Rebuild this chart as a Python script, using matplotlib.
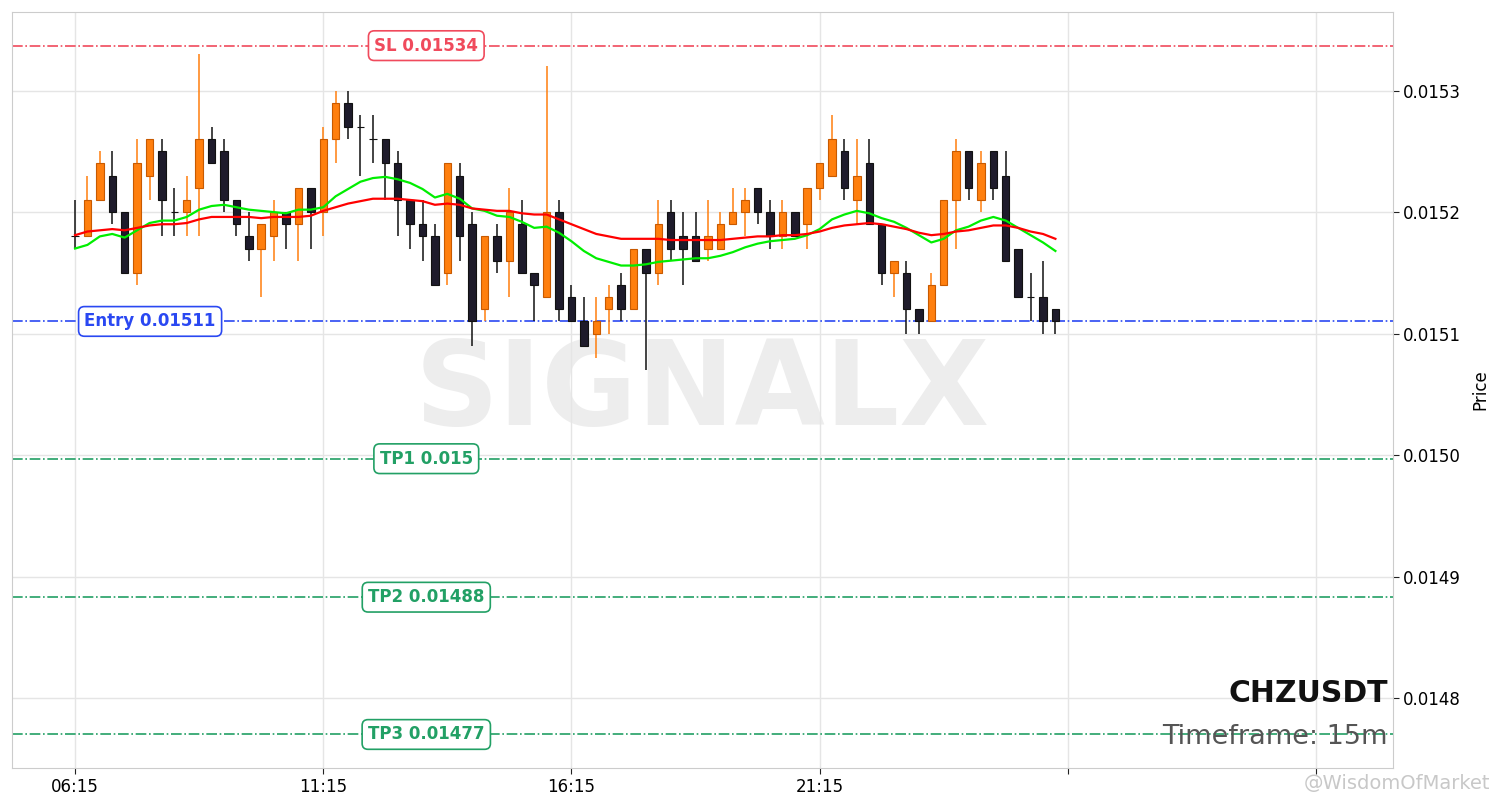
import numpy as np
import matplotlib.pyplot as plt
from matplotlib import transforms

symbol = "CHZUSDT"
timeframe = "15m"

# OHLC for the 80 candles, 15m each, starting 06:15
opens = [0.01518, 0.01518, 0.01521, 0.01523, 0.01520, 0.01515, 0.01523, 0.01525, 0.01520, 0.01520,
         0.01522, 0.01526, 0.01525, 0.01521, 0.01518, 0.01517, 0.01518, 0.01520, 0.01519, 0.01522,
         0.01520, 0.01526, 0.01529, 0.01527, 0.01526, 0.01526, 0.01524, 0.01521, 0.01519, 0.01518,
         0.01515, 0.01523, 0.01519, 0.01512, 0.01518, 0.01516, 0.01519, 0.01515, 0.01513, 0.01520,
         0.01513, 0.01511, 0.01510, 0.01512, 0.01514, 0.01512, 0.01517, 0.01515, 0.01520, 0.01518,
         0.01518, 0.01517, 0.01517, 0.01519, 0.01520, 0.01522, 0.01520, 0.01518, 0.01520, 0.01519,
         0.01522, 0.01523, 0.01525, 0.01521, 0.01524, 0.01519, 0.01515, 0.01515, 0.01512, 0.01511,
         0.01514, 0.01521, 0.01525, 0.01521, 0.01525, 0.01523, 0.01517, 0.01513, 0.01513, 0.01512]
highs = [0.01521, 0.01523, 0.01525, 0.01525, 0.01520, 0.01526, 0.01526, 0.01526, 0.01522, 0.01523,
         0.01533, 0.01527, 0.01526, 0.01521, 0.01520, 0.01519, 0.01521, 0.01520, 0.01522, 0.01522,
         0.01527, 0.01530, 0.01530, 0.01528, 0.01528, 0.01526, 0.01525, 0.01521, 0.01521, 0.01519,
         0.01524, 0.01524, 0.01520, 0.01518, 0.01519, 0.01522, 0.01521, 0.01515, 0.01532, 0.01521,
         0.01514, 0.01513, 0.01513, 0.01514, 0.01515, 0.01517, 0.01517, 0.01521, 0.01521, 0.01520,
         0.01520, 0.01521, 0.01520, 0.01522, 0.01522, 0.01522, 0.01521, 0.01521, 0.01520, 0.01522,
         0.01524, 0.01528, 0.01526, 0.01526, 0.01526, 0.01519, 0.01516, 0.01516, 0.01512, 0.01515,
         0.01521, 0.01526, 0.01525, 0.01525, 0.01525, 0.01525, 0.01517, 0.01515, 0.01516, 0.01512]
lows = [0.01517, 0.01518, 0.01521, 0.01519, 0.01515, 0.01514, 0.01521, 0.01518, 0.01518, 0.01518,
        0.01518, 0.01524, 0.01520, 0.01518, 0.01516, 0.01513, 0.01516, 0.01517, 0.01516, 0.01517,
        0.01518, 0.01524, 0.01526, 0.01523, 0.01524, 0.01521, 0.01518, 0.01517, 0.01516, 0.01514,
        0.01514, 0.01516, 0.01509, 0.01511, 0.01515, 0.01513, 0.01515, 0.01511, 0.01513, 0.01511,
        0.01511, 0.01509, 0.01508, 0.01510, 0.01511, 0.01512, 0.01507, 0.01514, 0.01516, 0.01514,
        0.01516, 0.01516, 0.01517, 0.01519, 0.01518, 0.01519, 0.01517, 0.01517, 0.01518, 0.01517,
        0.01521, 0.01523, 0.01521, 0.01519, 0.01519, 0.01514, 0.01513, 0.01510, 0.01510, 0.01511,
        0.01514, 0.01517, 0.01521, 0.01520, 0.01521, 0.01516, 0.01513, 0.01511, 0.01510, 0.01510]
closes = [0.01518, 0.01521, 0.01524, 0.01520, 0.01515, 0.01524, 0.01526, 0.01521, 0.01520, 0.01521,
          0.01526, 0.01524, 0.01521, 0.01519, 0.01517, 0.01519, 0.01520, 0.01519, 0.01522, 0.01520,
          0.01526, 0.01529, 0.01527, 0.01527, 0.01526, 0.01524, 0.01521, 0.01519, 0.01518, 0.01514,
          0.01524, 0.01518, 0.01511, 0.01518, 0.01516, 0.01520, 0.01515, 0.01514, 0.01520, 0.01512,
          0.01511, 0.01509, 0.01511, 0.01513, 0.01512, 0.01517, 0.01515, 0.01519, 0.01517, 0.01517,
          0.01516, 0.01518, 0.01519, 0.01520, 0.01521, 0.01520, 0.01518, 0.01520, 0.01518, 0.01522,
          0.01524, 0.01526, 0.01522, 0.01523, 0.01519, 0.01515, 0.01516, 0.01512, 0.01511, 0.01514,
          0.01521, 0.01525, 0.01522, 0.01524, 0.01522, 0.01516, 0.01513, 0.01513, 0.01511, 0.01511]

# moving averages
ma_fast = [0.015170, 0.015173, 0.015180, 0.015182, 0.015179, 0.015185, 0.015191, 0.015193, 0.015193, 0.015196,
           0.015202, 0.015205, 0.015206, 0.015204, 0.015202, 0.015201, 0.015200, 0.015199, 0.015202, 0.015202,
           0.015204, 0.015213, 0.015219, 0.015225, 0.015228, 0.015229, 0.015227, 0.015224, 0.015219, 0.015212,
           0.015215, 0.015211, 0.015203, 0.015201, 0.015197, 0.015196, 0.015192, 0.015187, 0.015188, 0.015183,
           0.015176, 0.015168, 0.015162, 0.015159, 0.015156, 0.015156, 0.015157, 0.015159, 0.015160, 0.015161,
           0.015162, 0.015162, 0.015164, 0.015167, 0.015171, 0.015174, 0.015176, 0.015177, 0.015178, 0.015181,
           0.015186, 0.015194, 0.015198, 0.015201, 0.015199, 0.015195, 0.015192, 0.015187, 0.015181, 0.015175,
           0.015178, 0.015185, 0.015188, 0.015193, 0.015196, 0.015193, 0.015187, 0.015181, 0.015175, 0.015168]
ma_slow = [0.015181, 0.015184, 0.015185, 0.015186, 0.015185, 0.015187, 0.015189, 0.015190, 0.015190, 0.015191,
           0.015194, 0.015196, 0.015196, 0.015196, 0.015196, 0.015195, 0.015196, 0.015196, 0.015196, 0.015197,
           0.015201, 0.015204, 0.015207, 0.015209, 0.015211, 0.015211, 0.015211, 0.015210, 0.015209, 0.015206,
           0.015207, 0.015206, 0.015203, 0.015202, 0.015201, 0.015201, 0.015199, 0.015198, 0.015198, 0.015194,
           0.015190, 0.015186, 0.015182, 0.015180, 0.015178, 0.015178, 0.015178, 0.015178, 0.015177, 0.015177,
           0.015177, 0.015177, 0.015177, 0.015178, 0.015179, 0.015180, 0.015180, 0.015181, 0.015181, 0.015182,
           0.015184, 0.015187, 0.015189, 0.015190, 0.015191, 0.015190, 0.015188, 0.015186, 0.015183, 0.015181,
           0.015182, 0.015184, 0.015185, 0.015187, 0.015189, 0.015189, 0.015187, 0.015184, 0.015182, 0.015178]

tick_pos = [0, 20, 40, 60, 80, 100]
tick_labels = ["06:15", "11:15", "16:15", "21:15", "", ""]

level_labels = ["SL 0.01534", "Entry 0.01511", "TP1 0.015", "TP2 0.01488", "TP3 0.01477"]
level_prices = [0.015337, 0.01511, 0.014997, 0.014883, 0.01477]
level_colors = ["#f04a5c", "#2a48f2", "#22a065", "#22a065", "#22a065"]
level_label_x = [0.30, 0.10, 0.30, 0.30, 0.30]  # axes fraction

fig = plt.figure(figsize=(15.01, 8.08), dpi=100)
ax = fig.add_axes([0.008, 0.0495, 0.920, 0.9355])

o = np.array(opens)
h = np.array(highs)
l = np.array(lows)
c = np.array(closes)
x = np.arange(len(o))
up = c > o

bull_col = "#ff7f0e"
bear_col = "#1e1b2b"

# wicks
ax.vlines(x[up], l[up], h[up], color=bull_col, linewidth=1.1, zorder=2)
ax.vlines(x[~up], l[~up], h[~up], color="#111111", linewidth=1.1, zorder=2)
# bodies
ax.bar(x[up], c[up] - o[up], bottom=o[up], width=0.6, color=bull_col,
       edgecolor="#c85a00", linewidth=0.8, zorder=3)
ax.bar(x[~up], np.abs(c[~up] - o[~up]), bottom=np.minimum(o[~up], c[~up]), width=0.6,
       color=bear_col, edgecolor="#111111", linewidth=0.8, zorder=3)

ax.plot(x, ma_fast, color="#00ee00", linewidth=1.6, zorder=4)
ax.plot(x, ma_slow, color="#ff0000", linewidth=1.6, zorder=4)

trans = transforms.blended_transform_factory(ax.transAxes, ax.transData)
for lab, p, col, lx in zip(level_labels, level_prices, level_colors, level_label_x):
    ax.axhline(p, color=col, linestyle="-.", linewidth=1.2, zorder=1)
    ax.text(lx, p, lab, transform=trans, ha="center", va="center", color=col,
            fontsize=12, fontweight="bold", zorder=6,
            bbox=dict(boxstyle="round,pad=0.35", facecolor="white", edgecolor=col, linewidth=1.2))

ax.text(0.5, 0.497, "SIGNALX", transform=ax.transAxes, ha="center", va="center",
        fontsize=84, fontweight="bold", color="#ededed", zorder=0)

ax.text(0.9964, 0.098, symbol, transform=ax.transAxes, ha="right", va="center",
        fontsize=21.5, fontweight="bold", color="#111111", zorder=6)
ax.text(0.9964, 0.041, "Timeframe: " + timeframe, transform=ax.transAxes, ha="right", va="center",
        fontsize=19.5, color="#555555", zorder=6)

ax.set_xlim(-5.08, 106.2)
ax.set_ylim(0.0147424, 0.0153646)
ax.set_xticks(tick_pos)
ax.set_xticklabels(tick_labels)
ax.set_yticks([0.0148, 0.0149, 0.0150, 0.0151, 0.0152, 0.0153])
ax.set_yticklabels(["0.0148", "0.0149", "0.0150", "0.0151", "0.0152", "0.0153"])
ax.yaxis.tick_right()
ax.yaxis.set_label_position("right")
ax.set_ylabel("Price", fontsize=12, labelpad=7)
ax.tick_params(labelsize=12, length=4, color="#222222")
ax.grid(True, color="#e5e5e5", linewidth=1, zorder=0)
ax.set_axisbelow(True)
for s in ax.spines.values():
    s.set_color("#cccccc")

fig.text(0.993, 0.03, "@WisdomOfMarket", ha="right", va="center", fontsize=14,
         color="#c8c8c8")

fig.savefig("out.png", dpi=100)
